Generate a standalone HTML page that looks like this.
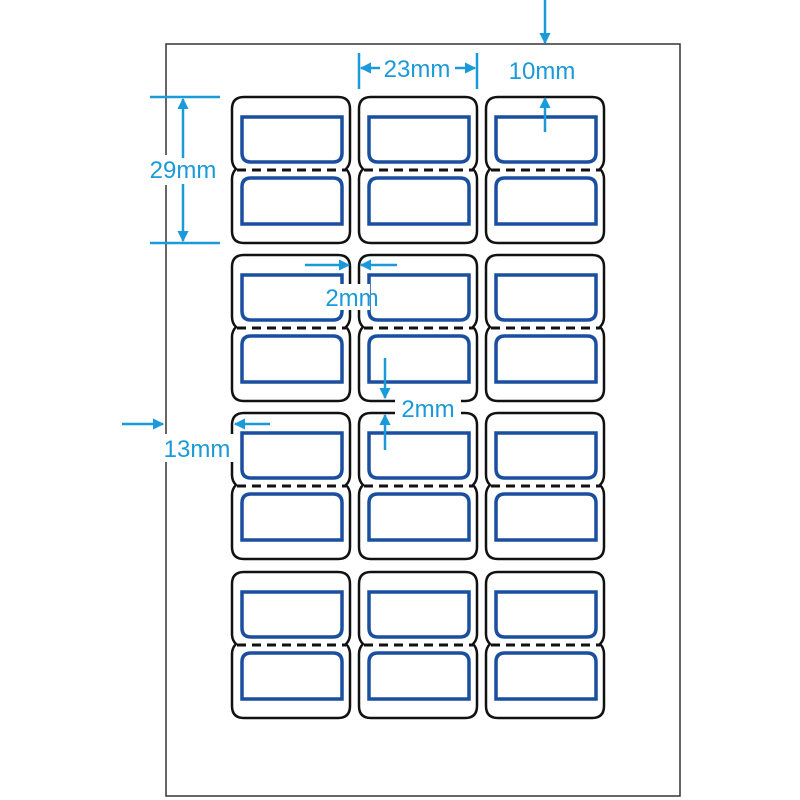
<!DOCTYPE html>
<html><head><meta charset="utf-8"><style>body{margin:0;background:#fff}svg{display:block}</style></head>
<body>
<svg width="800" height="800" viewBox="0 0 800 800" xmlns="http://www.w3.org/2000/svg">
<defs>
<marker id="a" viewBox="0 0 10 10" refX="9" refY="5" markerWidth="4.5" markerHeight="4.5" orient="auto-start-reverse"><path d="M0,0 L10,5 L0,10 Z" fill="#1a9ad8"/></marker>
<g id="lab">
<path d="M12,0 H106 Q118,0 118,12 V62 Q118,68 114,72 Q118,76 118,82 V134 Q118,146 106,146 H12 Q0,146 0,134 V82 Q0,76 4,72 Q0,68 0,62 V12 Q0,0 12,0 Z" fill="#fff" stroke="#111" stroke-width="2.5"/>
<line x1="5" y1="73" x2="114" y2="73" stroke="#111" stroke-width="3" stroke-dasharray="9,6"/>
<path d="M10,20 H110 V56 Q110,65 101,65 H19 Q10,65 10,56 Z" fill="none" stroke="#1a4fa0" stroke-width="3.5"/>
<path d="M19,81 H101 Q110,81 110,90 V127 H10 V90 Q10,81 19,81 Z" fill="none" stroke="#1a4fa0" stroke-width="3.5"/>
</g>
</defs>
<rect x="166" y="44" width="514" height="752" fill="#fff" stroke="#333" stroke-width="1.5"/>
<g>
<use href="#lab" x="232" y="97"/><use href="#lab" x="359" y="97"/><use href="#lab" x="486" y="97"/>
<use href="#lab" x="232" y="255"/><use href="#lab" x="359" y="255"/><use href="#lab" x="486" y="255"/>
<use href="#lab" x="232" y="413"/><use href="#lab" x="359" y="413"/><use href="#lab" x="486" y="413"/>
<use href="#lab" x="232" y="572"/><use href="#lab" x="359" y="572"/><use href="#lab" x="486" y="572"/>
</g>
<rect x="138" y="155" width="90" height="30" fill="#fff"/>
<rect x="340" y="284" width="30" height="26" fill="#fff"/>
<rect x="395" y="394" width="66" height="28" fill="#fff"/>
<rect x="156" y="434" width="82" height="28" fill="#fff"/>
<g stroke="#1a9ad8" stroke-width="2.5" fill="none">
<line x1="545" y1="0" x2="545" y2="43" marker-end="url(#a)"/>
<line x1="545" y1="132" x2="545" y2="98" marker-end="url(#a)"/>
<line x1="359" y1="53" x2="359" y2="89"/><line x1="477" y1="53" x2="477" y2="89"/>
<line x1="380" y1="68" x2="361" y2="68" marker-end="url(#a)"/>
<line x1="455" y1="68" x2="475" y2="68" marker-end="url(#a)"/>
<line x1="150" y1="97" x2="220" y2="97"/><line x1="150" y1="243" x2="220" y2="243"/>
<line x1="183" y1="99" x2="183" y2="158" marker-start="url(#a)"/>
<line x1="183" y1="184" x2="183" y2="241" marker-end="url(#a)"/>
<line x1="305" y1="265" x2="349" y2="265" marker-end="url(#a)"/>
<line x1="397" y1="265" x2="361" y2="265" marker-end="url(#a)"/>
<line x1="385" y1="358" x2="385" y2="398" marker-end="url(#a)"/>
<line x1="385" y1="450" x2="385" y2="415" marker-end="url(#a)"/>
<line x1="122" y1="424" x2="163" y2="424" marker-end="url(#a)"/>
<line x1="270" y1="424" x2="235" y2="424" marker-end="url(#a)"/>
</g>
<g font-family="Liberation Sans, sans-serif" font-size="24" fill="#1a9ad8">
<text x="417" y="77" text-anchor="middle">23mm</text>
<text x="542" y="79" text-anchor="middle">10mm</text>
<text x="183" y="178" text-anchor="middle">29mm</text>
<text x="352" y="306" text-anchor="middle">2mm</text>
<text x="428" y="417" text-anchor="middle">2mm</text>
<text x="197" y="457" text-anchor="middle">13mm</text>
</g>
</svg>
</body></html>
